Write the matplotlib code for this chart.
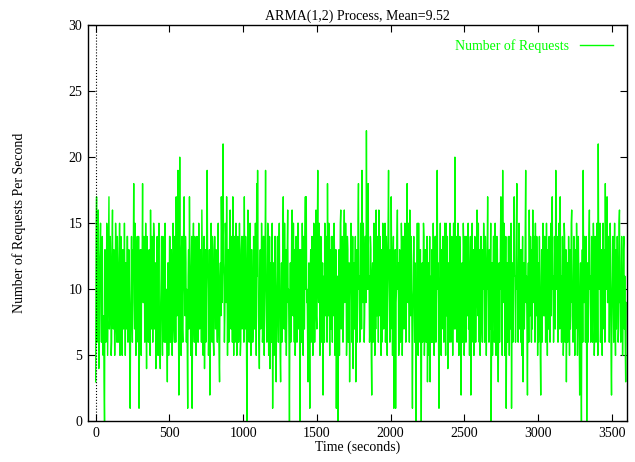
import numpy as np
import matplotlib
matplotlib.use('Agg')
import matplotlib.pyplot as plt

plt.rcParams['font.family'] = ['Liberation Serif', 'DejaVu Serif']

# requests per second, every 3 seconds:
# even = samples at 0, 6, 12, ... s ; odd = samples at 3, 9, 15, ... s
step = 3
requests_even = [
    3, 17, 10, 16, 5, 13, 9, 12, 7, 8, 0, 11, 7, 14, 9, 17, 8, 12, 6, 16,
    7, 11, 9, 13, 6, 12, 8, 15, 9, 11, 5, 13, 8, 10, 12, 7, 14, 9, 11, 1,
    10, 8, 13, 18, 7, 12, 9, 14, 6, 1, 11, 8, 13, 18, 9, 12, 7, 10, 14, 8,
    11, 9, 16, 7, 12, 10, 14, 8, 4, 12, 9, 13, 7, 4, 11, 8, 14, 9, 12, 6,
    10, 3, 12, 8, 14, 7, 11, 9, 13, 6, 12, 17, 8, 19, 2, 20, 9, 13, 7, 11,
    17, 8, 12, 10, 1, 13, 17, 9, 11, 1, 12, 8, 14, 7, 10, 13, 6, 11, 9, 12,
    16, 9, 11, 4, 13, 8, 19, 10, 7, 2, 12, 9, 14, 6, 11, 10, 13, 8, 12, 7,
    3, 12, 17, 9, 21, 11, 8, 14, 17, 5, 13, 10, 16, 7, 12, 17, 5, 14, 9, 11,
    8, 13, 10, 12, 6, 14, 9, 11, 17, 7, 12, 0, 16, 9, 11, 8, 13, 10, 7, 12,
    9, 11, 18, 19, 8, 4, 13, 10, 12, 7, 14, 9, 19, 8, 11, 13, 6, 4, 12, 10,
    1, 12, 9, 14, 3, 11, 8, 13, 10, 3, 12, 9, 17, 7, 11, 13, 8, 16, 10, 0,
    12, 9, 16, 8, 11, 13, 7, 12, 10, 15, 8, 0, 13, 9, 11, 14, 7, 17, 17, 10,
    3, 12, 1, 13, 9, 11, 8, 14, 10, 16, 7, 19, 9, 12, 8, 13, 10, 2, 11, 15,
    9, 12, 18, 8, 11, 13, 7, 10, 14, 9, 12, 8, 1, 11, 0, 13, 9, 16, 10, 12,
    8, 16, 10, 12, 7, 13, 9, 3, 11, 14, 8, 4, 12, 10, 3, 13, 9, 18, 11, 7,
    13, 19, 9, 12, 8, 14, 22, 10, 18, 11, 7, 13, 2, 12, 9, 11, 14, 16, 8, 12,
    16, 9, 11, 13, 7, 12, 10, 15, 8, 12, 11, 19, 9, 13, 17, 10, 12, 1, 11, 1,
    10, 16, 12, 6, 11, 9, 13, 8, 12, 10, 14, 7, 18, 9, 11, 16, 8, 12, 1, 10,
    9, 12, 0, 11, 8, 15, 10, 13, 0, 12, 9, 14, 7, 11, 10, 3, 12, 8, 3, 11,
    13, 8, 11, 10, 14, 9, 19, 12, 1, 11, 8, 13, 10, 12, 7, 11, 15, 9, 4, 12,
    10, 13, 8, 12, 9, 11, 20, 7, 12, 10, 13, 8, 11, 2, 12, 9, 13, 7, 11, 14,
    8, 15, 10, 12, 2, 11, 9, 13, 7, 12, 10, 16, 8, 11, 13, 9, 12, 6, 10, 13,
    9, 12, 8, 17, 10, 13, 11, 0, 12, 9, 14, 7, 11, 10, 13, 3, 12, 9, 17, 11,
    19, 10, 13, 8, 1, 12, 9, 11, 14, 10, 1, 12, 8, 17, 11, 9, 18, 10, 12, 7,
    11, 13, 9, 3, 12, 10, 19, 11, 2, 12, 16, 8, 11, 13, 16, 9, 12, 15, 8, 11,
    12, 9, 11, 2, 13, 10, 14, 8, 12, 9, 11, 13, 7, 12, 10, 8, 17, 11, 9, 12,
    19, 10, 12, 8, 13, 17, 11, 9, 12, 7, 14, 10, 3, 12, 9, 11, 13, 8, 16, 10,
    11, 9, 13, 10, 12, 8, 11, 2, 12, 0, 13, 19, 9, 11, 10, 0, 12, 9, 16, 11,
    8, 12, 10, 13, 7, 11, 9, 12, 21, 10, 15, 8, 12, 11, 9, 13, 18, 10, 17, 9,
    12, 10, 13, 2, 11, 9, 12, 8, 13, 10, 11, 7, 16, 9, 12, 10, 8, 14, 11, 3,
]
requests_odd = [
    14, 6, 15, 4, 12, 15, 6, 14, 5, 3, 13, 6, 15, 5, 12, 7, 14, 5, 13, 8,
    13, 5, 15, 7, 14, 6, 12, 5, 14, 6, 13, 7, 15, 5, 12, 14, 6, 13, 4, 8,
    14, 6, 12, 9, 15, 5, 13, 7, 14, 6, 13, 5, 12, 9, 14, 6, 15, 4, 12, 6,
    13, 5, 11, 14, 6, 15, 7, 12, 8, 14, 5, 15, 6, 9, 14, 5, 13, 6, 15, 7,
    6, 12, 5, 14, 6, 13, 5, 15, 7, 14, 6, 10, 14, 9, 12, 11, 5, 14, 6, 15,
    10, 14, 6, 5, 11, 7, 12, 5, 14, 8, 15, 6, 13, 5, 14, 6, 15, 7, 13, 6,
    12, 5, 14, 9, 6, 15, 12, 5, 13, 8, 15, 6, 13, 5, 14, 7, 12, 6, 15, 5,
    11, 8, 14, 13, 12, 6, 15, 9, 11, 12, 6, 15, 10, 14, 6, 11, 13, 6, 15, 5,
    14, 6, 15, 5, 13, 7, 14, 6, 10, 14, 5, 8, 12, 6, 15, 5, 13, 6, 14, 7,
    15, 5, 11, 12, 6, 10, 7, 15, 6, 14, 5, 13, 11, 6, 15, 5, 14, 10, 6, 15,
    8, 5, 14, 6, 9, 14, 6, 15, 5, 9, 6, 14, 10, 15, 6, 5, 13, 9, 6, 8,
    6, 14, 9, 15, 6, 5, 14, 6, 15, 7, 13, 9, 6, 15, 5, 7, 14, 10, 9, 6,
    9, 7, 11, 6, 14, 5, 15, 6, 13, 8, 14, 10, 15, 5, 14, 6, 12, 9, 6, 8,
    14, 6, 11, 15, 5, 7, 14, 6, 8, 15, 5, 13, 8, 6, 9, 5, 15, 7, 14, 6,
    13, 9, 15, 5, 14, 6, 12, 9, 15, 6, 14, 10, 7, 14, 8, 6, 15, 10, 6, 15,
    7, 12, 15, 6, 14, 9, 13, 15, 10, 6, 14, 5, 11, 6, 15, 5, 7, 10, 14, 6,
    8, 14, 5, 6, 15, 7, 13, 6, 14, 5, 15, 11, 6, 7, 12, 5, 14, 8, 13, 9,
    14, 10, 5, 13, 6, 15, 5, 14, 7, 15, 6, 13, 10, 15, 6, 9, 14, 6, 9, 14,
    6, 9, 8, 15, 5, 9, 6, 7, 10, 6, 15, 5, 13, 6, 14, 9, 5, 14, 10, 6,
    6, 15, 5, 14, 6, 13, 10, 6, 9, 15, 5, 7, 14, 6, 15, 5, 8, 14, 10, 6,
    15, 6, 14, 5, 15, 7, 10, 14, 6, 15, 5, 14, 7, 9, 6, 15, 5, 14, 6, 8,
    13, 7, 5, 14, 9, 15, 6, 5, 14, 6, 13, 9, 15, 6, 5, 14, 7, 13, 15, 6,
    14, 5, 13, 10, 6, 7, 15, 8, 5, 14, 6, 15, 5, 14, 6, 9, 6, 14, 10, 5,
    9, 15, 5, 14, 9, 6, 14, 5, 7, 15, 9, 6, 14, 11, 6, 15, 10, 6, 15, 13,
    6, 5, 14, 10, 7, 15, 9, 6, 10, 6, 11, 14, 6, 7, 10, 14, 6, 9, 14, 5,
    6, 14, 5, 9, 6, 15, 8, 14, 6, 15, 5, 7, 14, 6, 15, 14, 10, 6, 14, 7,
    11, 14, 6, 15, 7, 10, 6, 14, 5, 15, 6, 13, 9, 6, 14, 5, 7, 15, 9, 6,
    14, 5, 7, 15, 5, 14, 6, 9, 5, 10, 6, 10, 14, 6, 14, 8, 6, 14, 10, 6,
    14, 6, 15, 5, 14, 6, 15, 5, 12, 14, 6, 13, 5, 15, 7, 6, 11, 14, 9, 14,
    6, 15, 5, 9, 14, 6, 15, 5, 7, 14, 6, 15, 9, 6, 14, 5, 13, 7, 6, 9,
]
requests = np.column_stack([requests_even, requests_odd]).ravel()
times = np.arange(len(requests)) * step

fig = plt.figure(figsize=(6.35, 4.62), dpi=100)
ax = fig.add_axes([0.1386, 0.0877, 0.8488, 0.8582])

ax.plot(times, requests, color='#00ff00', lw=1.0, label='Number of Requests')
ax.axvline(0, color='black', ls=':', lw=0.8)

ax.set_xlim(-52, 3603)
ax.set_ylim(0, 30)
ax.set_xticks(range(0, 3501, 500))
ax.set_yticks(range(0, 31, 5))
ax.tick_params(direction='in', length=5, width=0.8, top=True, right=True,
               labelsize=10, pad=4)
for s in ax.spines.values():
    s.set_linewidth(1.0)

ax.set_title('ARMA(1,2) Process, Mean=9.52', fontsize=10, pad=4)
ax.set_xlabel('Time (seconds)', fontsize=10, labelpad=0)
ax.set_ylabel('Number of Requests Per Second', fontsize=10, labelpad=31)

ax.legend(loc='upper right', frameon=False, markerfirst=False, fontsize=10,
          labelcolor='#00ff00', handlelength=2.4, borderaxespad=0.6)

fig.savefig('out.png', dpi=100)
